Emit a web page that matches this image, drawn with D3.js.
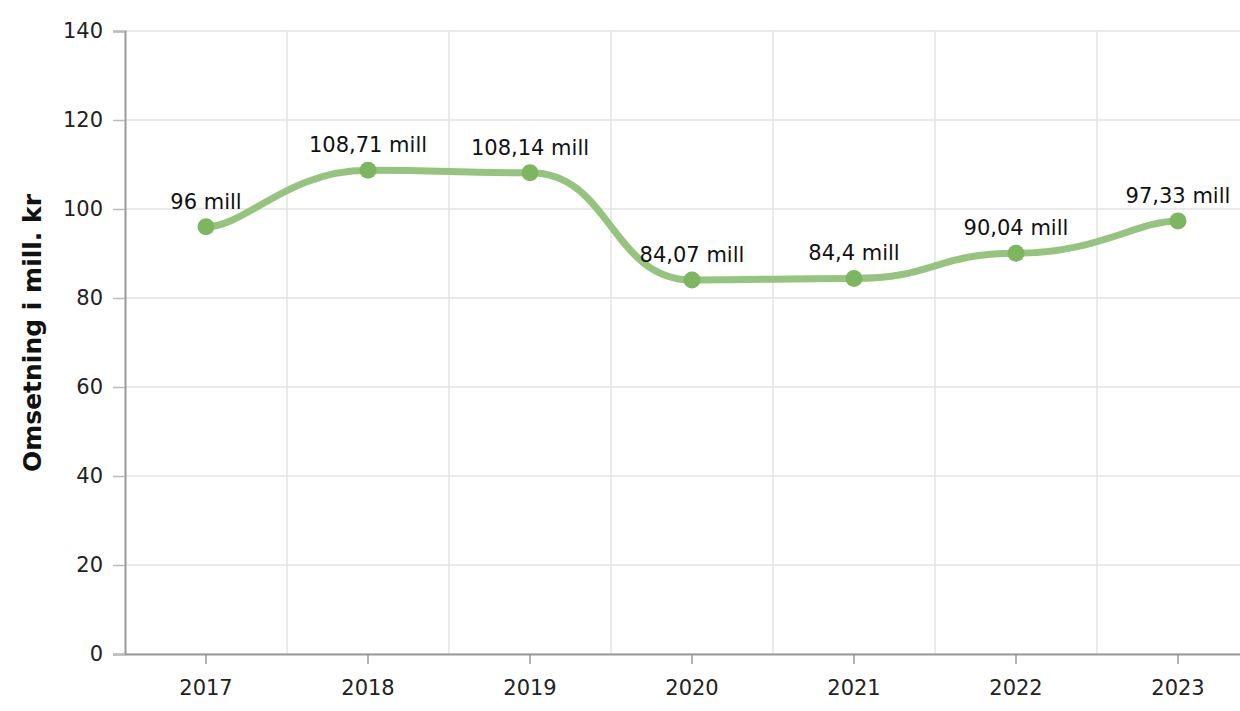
<!DOCTYPE html>
<html>
<head>
<meta charset="utf-8">
<script src="https://cdn.jsdelivr.net/npm/d3@7"></script>
<style>
  body { margin: 0; background: #fff; }
  svg { display: block; font-family: "DejaVu Sans", Verdana, sans-serif; }
</style>
</head>
<body>
<svg></svg>
<script>
const years = ["2017", "2018", "2019", "2020", "2021", "2022", "2023"];
const revenue = [96, 108.71, 108.14, 84.07, 84.4, 90.04, 97.33];
const labels = ["96 mill", "108,71 mill", "108,14 mill", "84,07 mill", "84,4 mill", "90,04 mill", "97,33 mill"];
const yTicks = [0, 20, 40, 60, 80, 100, 120, 140];

const width = 1240;
const height = 711;
const plotLeft = 125, plotTop = 31, plotBottom = 654, plotRight = 1259;

// smooth line with flat tangents at each inner point, shorter handles at the ends
function flatSpline(context) {
  let pts;
  return {
    areaStart() {}, areaEnd() {},
    lineStart() { pts = []; },
    point(px, py) { pts.push([+px, +py]); },
    lineEnd() {
      const n = pts.length;
      pts.forEach((p, i) => {
        if (i === 0) { context.moveTo(p[0], p[1]); return; }
        const a = pts[i - 1];
        const dx = p[0] - a[0];
        const k1 = i - 1 === 0 ? 0.25 : 0.5;
        const k2 = i === n - 1 ? 0.25 : 0.5;
        context.bezierCurveTo(a[0] + k1 * dx, a[1], p[0] - k2 * dx, p[1], p[0], p[1]);
      });
    }
  };
}

const svg = d3.select("svg")
  .attr("width", width)
  .attr("height", height);

const x = d3.scaleBand().domain(years).range([plotLeft, plotRight]).padding(0);
const y = d3.scaleLinear().domain([0, 140]).range([plotBottom, plotTop]);
const cx = d => x(d) + x.bandwidth() / 2;

// grid
svg.append("g")
  .selectAll("line")
  .data(yTicks)
  .enter().append("line")
  .attr("x1", plotLeft).attr("x2", width)
  .attr("y1", d => y(d)).attr("y2", d => y(d))
  .attr("stroke", "#e3e3e3").attr("stroke-width", 1.5);

svg.append("g")
  .selectAll("line")
  .data(years.slice(1))
  .enter().append("line")
  .attr("x1", d => x(d)).attr("x2", d => x(d))
  .attr("y1", plotTop).attr("y2", plotBottom)
  .attr("stroke", "#e3e3e3").attr("stroke-width", 1.5);

// y axis
const yAxis = svg.append("g")
  .attr("transform", `translate(${plotLeft},0)`)
  .call(d3.axisLeft(y).tickValues(yTicks).tickSize(12).tickPadding(10));
yAxis.select(".domain").attr("stroke", "#999").attr("stroke-width", 2);
yAxis.selectAll(".tick line").attr("stroke", "#bbb").attr("stroke-width", 1.5);
yAxis.selectAll(".tick text")
  .attr("font-size", 21).attr("fill", "#222")
  .attr("font-family", "DejaVu Sans, Verdana, sans-serif");

// x axis
const xAxis = svg.append("g")
  .attr("transform", `translate(0,${plotBottom})`)
  .call(d3.axisBottom(x).tickSize(10).tickPadding(16).tickSizeOuter(0));
xAxis.select(".domain").attr("stroke", "#999").attr("stroke-width", 2);
xAxis.selectAll(".tick line").attr("stroke", "#999").attr("stroke-width", 1.5);
xAxis.selectAll(".tick text")
  .attr("font-size", 21).attr("fill", "#222")
  .attr("font-family", "DejaVu Sans, Verdana, sans-serif");

// axis title
svg.append("text")
  .attr("transform", `translate(41,333) rotate(-90)`)
  .attr("text-anchor", "middle")
  .attr("font-size", 25)
  .attr("font-weight", "bold")
  .attr("fill", "#111")
  .text("Omsetning i mill. kr");

// line
const line = d3.line()
  .x((d, i) => cx(years[i]))
  .y(d => y(d))
  .curve(flatSpline);

svg.append("path")
  .datum(revenue)
  .attr("d", line)
  .attr("fill", "none")
  .attr("stroke", "#95c47f")
  .attr("stroke-width", 7)
  .attr("stroke-linecap", "round");

svg.append("g")
  .selectAll("circle")
  .data(revenue)
  .enter().append("circle")
  .attr("cx", (d, i) => cx(years[i]))
  .attr("cy", d => y(d))
  .attr("r", 8.5)
  .attr("fill", "#7cb65e");

svg.append("g")
  .selectAll("text")
  .data(revenue)
  .enter().append("text")
  .attr("x", (d, i) => cx(years[i]))
  .attr("y", d => y(d) - 18)
  .attr("text-anchor", "middle")
  .attr("font-size", 21)
  .attr("fill", "#111")
  .text((d, i) => labels[i]);
</script>
</body>
</html>
